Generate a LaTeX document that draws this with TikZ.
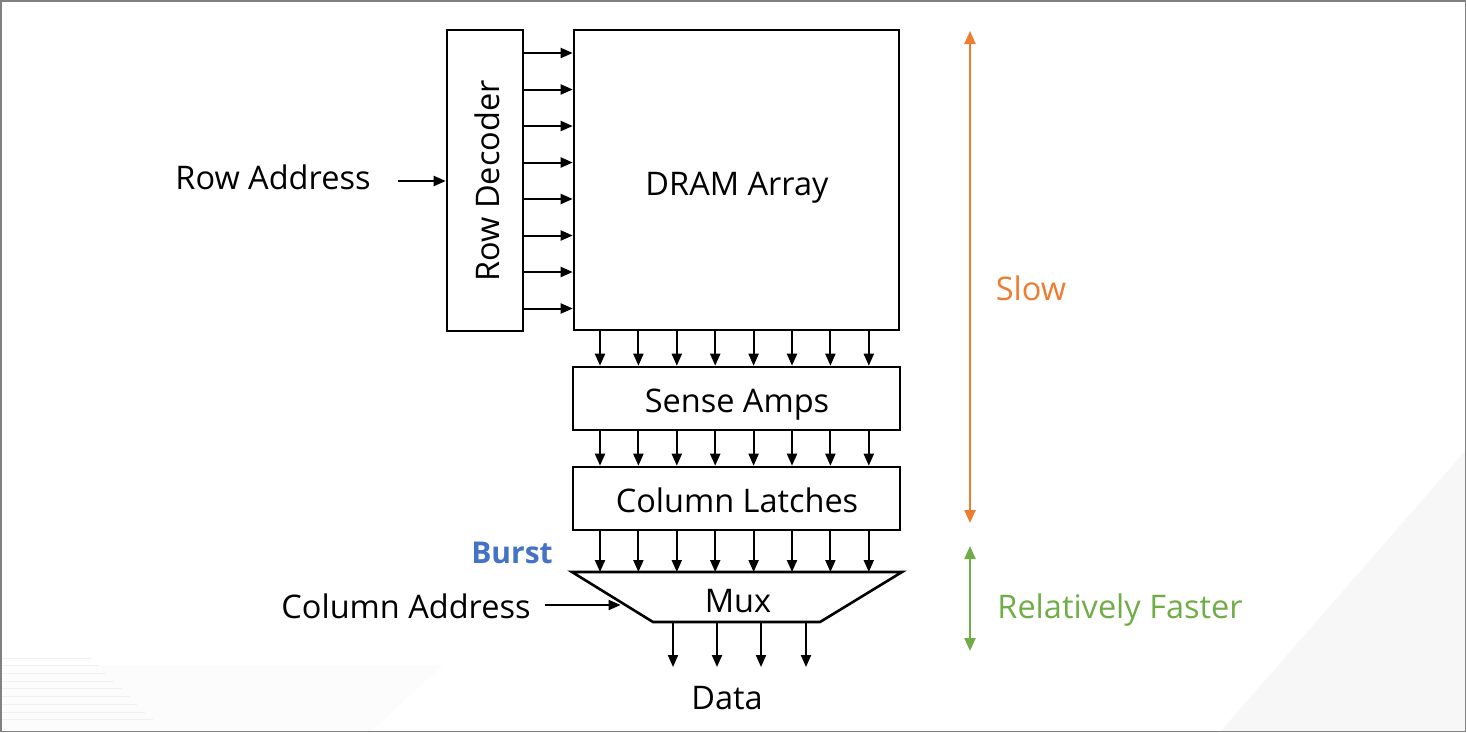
\documentclass[tikz,border=0pt]{standalone}
\usepackage{fontspec}
\setmainfont{Open Sans}
\usetikzlibrary{arrows.meta,calc}
\definecolor{slowc}{HTML}{ED7D31}
\definecolor{fastc}{HTML}{70AD47}
\definecolor{burstc}{HTML}{4472C4}
\begin{document}
\begin{tikzpicture}[x=1pt,y=-1pt,
  blk/.style={draw,line width=2.6pt,rectangle,inner sep=0pt},
  lbl/.style={inner sep=0pt,anchor=base,font=\fontsize{32.5}{38}\selectfont},
  arr/.style={line width=2pt,-{Triangle[length=12pt,width=10pt]}},
  bigarr/.style={line width=2.2pt,{Triangle[length=13pt,width=11pt]}-{Triangle[length=13pt,width=11pt]}}]
\useasboundingbox (0,0) rectangle (1466,732);
% faint background
\fill[black!3] (1466,450) -- (1220,732) -- (1466,732) -- cycle;
\fill[black!1.2] (0,665) -- (443,665) -- (370,732) -- (0,732) -- cycle;
\foreach \i in {0,...,8}{
  \draw[black!6,line width=0.8pt] (0,{658+7.7*\i}) -- ({91+7.7*\i},{658+7.7*\i});
}
\draw[black!50,line width=1.5pt] (0.75,0.75) rectangle (1465.25,731.25);

% blocks
\node[blk,minimum width=76pt,minimum height=301pt] (rd) at (485,180.5) {};
\node[lbl,rotate=90,anchor=center] (rdt) at (487,181) {Row Decoder};
\node[blk,minimum width=325pt,minimum height=300pt] (dram) at (736.5,180) {};
\node[lbl] (dramt) at (737,195) {DRAM Array};
\node[blk,minimum width=327pt,minimum height=63pt] (sa) at (736.5,398.5) {};
\node[lbl] (sat) at (737,412) {Sense Amps};
\node[blk,minimum width=327pt,minimum height=63pt] (cl) at (736.5,498.5) {};
\node[lbl] (clt) at (737,512) {Column Latches};

% mux trapezoid
\coordinate (mtl) at (572,572);
\coordinate (mtr) at (902,572);
\coordinate (mbr) at (820,622);
\coordinate (mbl) at (653,622);
\draw[line width=2.6pt,line join=miter] (mtl) -- (mtr) -- (mbr) -- (mbl) -- cycle;
\node[lbl] (mux) at (738,612) {Mux};
\coordinate (cain) at ($(mtl)!0.6!(mbl)$);

% labels
\node[lbl] (ra) at (273,189) {Row Address};
\node[lbl] (ca) at (406,618) {Column Address};
\node[lbl] (data) at (727,709) {Data};
\node[lbl,text=burstc,font=\fontsize{30}{36}\selectfont\bfseries] (burst) at (512,563) {Burst};
\node[lbl,text=slowc] (slow) at (1031,300) {Slow};
\node[lbl,text=fastc] (fast) at (1120,618) {Relatively Faster};

% row address
\coordinate (rastart) at (398,181);
\draw[arr] (rastart) -- (rastart -| rd.west);
% row decoder outputs
\foreach \y in {53,89.5,126,162.5,199,235.5,272,308.5}{
  \draw[arr] (rd.east |- 0,\y) -- (dram.west |- 0,\y);
}
% vertical buses
\foreach \x in {600,638.4,676.8,715.2,753.6,792,830.4,868.8}{
  \draw[arr] (dram.south -| \x,0) -- (sa.north -| \x,0);
  \draw[arr] (sa.south -| \x,0) -- (cl.north -| \x,0);
  \draw[arr] (cl.south -| \x,0) -- (mtl -| \x,0);
}
% column address
\coordinate (castart) at (545,605);
\draw[arr] (castart) -- (castart -| cain);
% data outputs
\foreach \x in {673,717,761,806}{
  \draw[arr] (mbl -| \x,0) -- (\x,667);
}
% timing arrows
\coordinate (s1) at (970,31);
\coordinate (s2) at (970,523);
\coordinate (f1) at (970,546);
\coordinate (f2) at (970,651);
\draw[bigarr,slowc] (s1) -- (s2);
\draw[bigarr,fastc] (f1) -- (f2);
\end{tikzpicture}
\end{document}
